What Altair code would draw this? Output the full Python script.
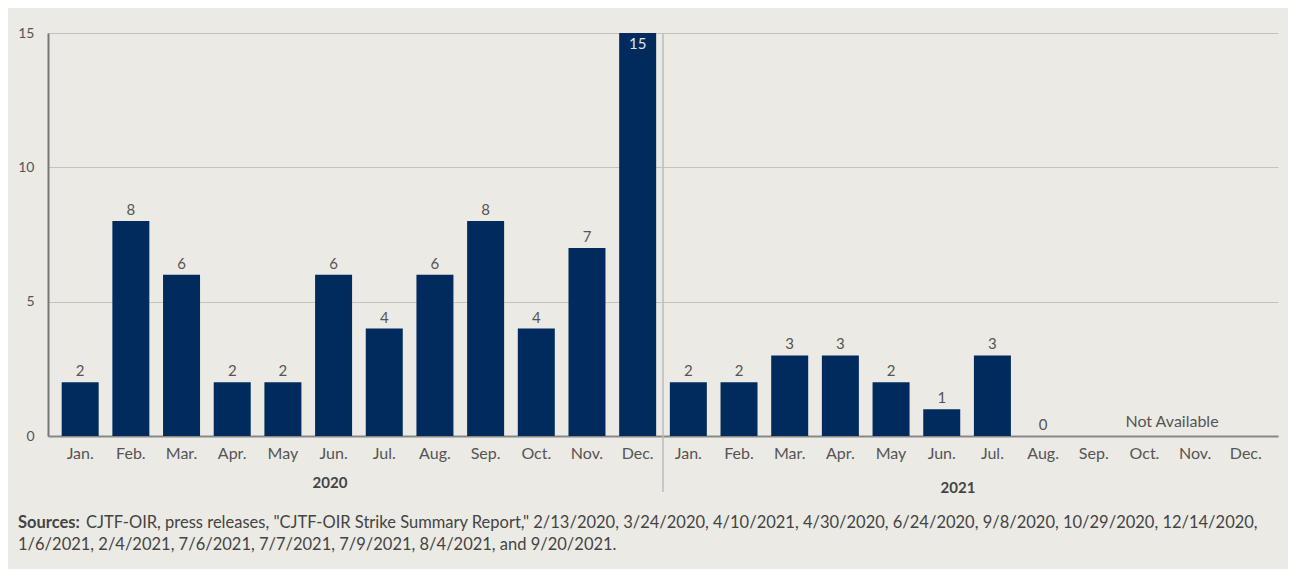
import altair as alt
import pandas as pd

months = ["Jan.", "Feb.", "Mar.", "Apr.", "May", "Jun.", "Jul.", "Aug.", "Sep.", "Oct.", "Nov.", "Dec."]
years = ["2020", "2021"]
values_2020 = [2, 8, 6, 2, 2, 6, 4, 6, 8, 4, 7, 15]
values_2021 = [2, 2, 3, 3, 2, 1, 3, 0, None, None, None, None]

rows = []
for y, vals in zip(years, [values_2020, values_2021]):
    for m, v in zip(months, vals):
        rows.append({"key": f"{m} {y}", "month": m, "year": y, "value": v})
df = pd.DataFrame(rows)
order = list(df["key"])

BG = "#ebeae4"
NAVY = "#002b5c"
FONT = "Lato"

W, H = 1230, 403

x = alt.X("key:N", sort=order, title=None,
          scale=alt.Scale(paddingInner=0.27, paddingOuter=0.27),
          axis=alt.Axis(labelExpr="split(datum.label, ' ')[0]", labelAngle=0,
                        ticks=False, domain=True, domainColor="#888", domainWidth=2,
                        labelFontSize=16, labelColor="#555", labelPadding=9, labelFont=FONT))
y = alt.Y("value:Q", title=None, scale=alt.Scale(domain=[0, 15], nice=False),
          axis=alt.Axis(values=[0, 5, 10, 15], ticks=False, domain=True, domainColor="#777",
                        domainWidth=2, grid=True, gridColor="#c4c4bd", gridWidth=1.2,
                        labelFontSize=14, labelColor="#555", labelPadding=14, labelFont=FONT))

base = alt.Chart(df)
bars = base.mark_bar(color=NAVY).encode(x=x, y=y)
labels = base.transform_filter("isValid(datum.value) && datum.value < 15").mark_text(
    baseline="bottom", dy=-3, fontSize=15, color="#555", font=FONT
).encode(x=alt.X("key:N", sort=order), y="value:Q", text="value:Q")
top_labels = base.transform_filter("datum.value >= 15").mark_text(
    baseline="top", dy=4, fontSize=15, color="#dfe3ea", font=FONT
).encode(x=alt.X("key:N", sort=order), y="value:Q", text="value:Q")

sep = alt.Chart(pd.DataFrame({"a": [0]})).mark_rule(color="#bbb", strokeWidth=1.5).encode(
    x=alt.value(615), y=alt.value(0), y2=alt.value(459))

yr = pd.DataFrame({"t": ["2020", "2021"], "px": [282, 910], "py": [450, 455]})
year_text = alt.Chart(yr).mark_text(fontSize=15, fontWeight="bold", color="#444", font=FONT).encode(
    x=alt.X("px:Q", scale=None), y=alt.Y("py:Q", scale=None), text="t:N")

na = alt.Chart(pd.DataFrame({"t": ["Not Available"]})).mark_text(
    fontSize=16, color="#555", font=FONT).encode(x=alt.value(1124), y=alt.value(389), text="t:N")

src_bold = alt.Chart(pd.DataFrame({"t": ["Sources:"]})).mark_text(
    fontSize=16.5, fontWeight="bold", color="#444", align="left", font=FONT).encode(
    x=alt.value(-30), y=alt.value(490), text="t:N")
src1 = alt.Chart(pd.DataFrame({"t": ["CJTF-OIR, press releases, \"CJTF-OIR Strike Summary Report,\" 2/13/2020, 3/24/2020, 4/10/2021, 4/30/2020, 6/24/2020, 9/8/2020, 10/29/2020, 12/14/2020,"]})).mark_text(
    fontSize=16.5, color="#444", align="left", font=FONT).encode(
    x=alt.value(38), y=alt.value(490), text="t:N")
src2 = alt.Chart(pd.DataFrame({"t": ["1/6/2021, 2/4/2021, 7/6/2021, 7/7/2021, 7/9/2021, 8/4/2021, and 9/20/2021."]})).mark_text(
    fontSize=16.5, color="#444", align="left", font=FONT).encode(
    x=alt.value(-30), y=alt.value(512), text="t:N")

chart = alt.layer(bars, labels, top_labels, sep, year_text, na, src_bold, src1, src2).properties(
    width=W, height=H, background=BG,
    autosize=alt.AutoSizeParams(type="none"),
    padding={"left": 40, "top": 25, "right": 10, "bottom": 133},
).configure_view(stroke=None)

chart.save("out.html", embed_options={"renderer": "svg", "actions": False})
